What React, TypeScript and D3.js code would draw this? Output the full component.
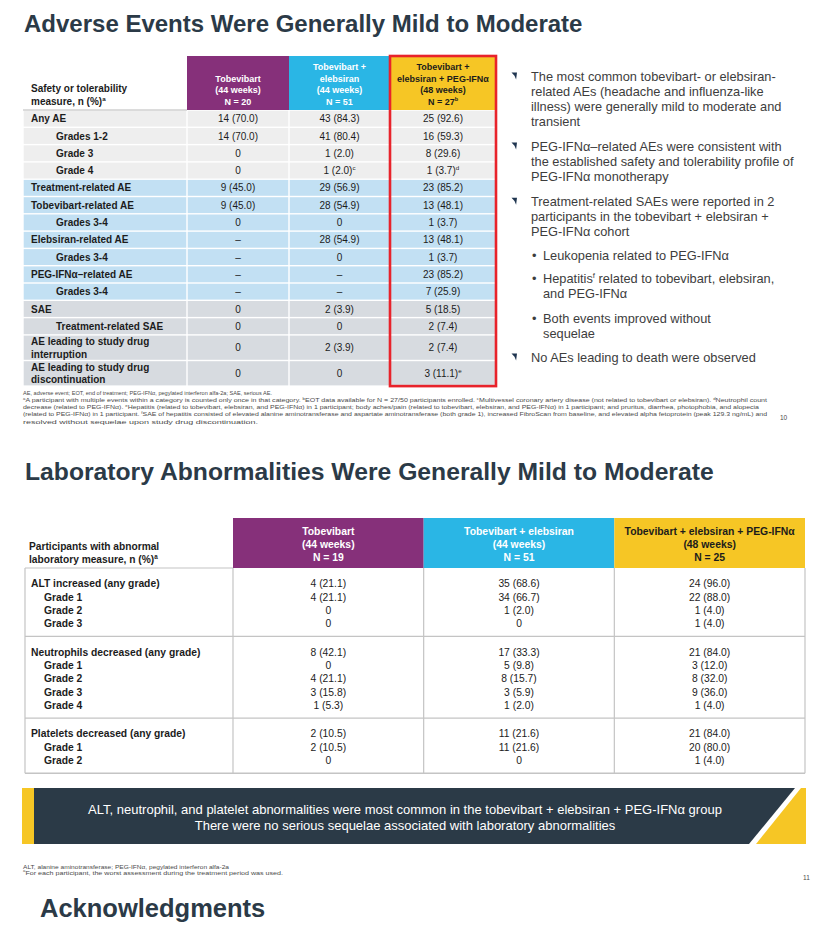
import React from "react";
import * as d3 from "d3";

const FONT = '"Liberation Sans", Arial, Helvetica, sans-serif';
const TITLE_COLOR = "#2b3a47";
const PURPLE = "#86307a";
const CYAN = "#2ab6e5";
const YELLOW = "#f6c625";
const RED = "#e8232b";
const DARK_TEXT = "#1c1c1c";

// ---------- Slide 1: adverse events ----------
const aeTitle = "Adverse Events Were Generally Mild to Moderate";
const aeCornerHeader = ["Safety or tolerability", "measure, n (%)^a"];
const aeColumnHeaders = [
  ["Tobevibart", "(44 weeks)", "N = 20"],
  ["Tobevibart +", "elebsiran", "(44 weeks)", "N = 51"],
  ["Tobevibart +", "elebsiran + PEG-IFNα", "(48 weeks)", "N = 27^b"],
];
const aeLabels = [
  "Any AE",
  "Grades 1-2",
  "Grade 3",
  "Grade 4",
  "Treatment-related AE",
  "Tobevibart-related AE",
  "Grades 3-4",
  "Elebsiran-related AE",
  "Grades 3-4",
  "PEG-IFNα–related AE",
  "Grades 3-4",
  "SAE",
  "Treatment-related SAE",
  "AE leading to study drug\ninterruption",
  "AE leading to study drug\ndiscontinuation",
];
const aeIndented = [false, true, true, true, false, false, true, false, true, false, true, false, true, false, false];
const aeGroups = ["any", "any", "any", "any", "rel", "rel", "rel", "rel", "rel", "rel", "rel", "sae", "sae", "sae", "sae"];
const aeTobevibart = ["14 (70.0)", "14 (70.0)", "0", "0", "9 (45.0)", "9 (45.0)", "0", "–", "–", "–", "–", "0", "0", "0", "0"];
const aeTobEle = ["43 (84.3)", "41 (80.4)", "1 (2.0)", "1 (2.0)^c", "29 (56.9)", "28 (54.9)", "0", "28 (54.9)", "0", "–", "–", "2 (3.9)", "0", "2 (3.9)", "0"];
const aeTriple = ["25 (92.6)", "16 (59.3)", "8 (29.6)", "1 (3.7)^d", "23 (85.2)", "13 (48.1)", "1 (3.7)", "13 (48.1)", "1 (3.7)", "23 (85.2)", "7 (25.9)", "5 (18.5)", "2 (7.4)", "2 (7.4)", "3 (11.1)^e"];

const aeBullets = [
  { sub: false, lines: ["The most common tobevibart- or elebsiran-", "related AEs (headache and influenza-like", "illness) were generally mild to moderate and", "transient"] },
  { sub: false, lines: ["PEG-IFNα–related AEs were consistent with", "the established safety and tolerability profile of", "PEG-IFNα monotherapy"] },
  { sub: false, lines: ["Treatment-related SAEs were reported in 2", "participants in the tobevibart + elebsiran +", "PEG-IFNα cohort"] },
  { sub: true, lines: ["Leukopenia related to PEG-IFNα"] },
  { sub: true, lines: ["Hepatitis^f related to tobevibart, elebsiran,", "and PEG-IFNα"] },
  { sub: true, lines: ["Both events improved without", "sequelae"] },
  { sub: false, lines: ["No AEs leading to death were observed"] },
];
const aeBulletBaselines = [80.7, 150.7, 206, 260, 282.7, 323.3, 361.7];

const aeFootnotes = [
  "AE, adverse event; EOT, end of treatment; PEG-IFNα, pegylated interferon alfa-2a; SAE, serious AE.",
  "^aA participant with multiple events within a category is counted only once in that category. ^bEOT data available for N = 27/50 participants enrolled. ^cMultivessel coronary artery disease (not related to tobevibart or elebsiran). ^dNeutrophil count",
  "decrease (related to PEG-IFNα). ^eHepatitis (related to tobevibart, elebsiran, and PEG-IFNα) in 1 participant; body aches/pain (related to tobevibart, elebsiran, and PEG-IFNα) in 1 participant; and pruritus, diarrhea, photophobia, and alopecia",
  "(related to PEG-IFNα) in 1 participant. ^fSAE of hepatitis consisted of elevated alanine aminotransferase and aspartate aminotransferase (both grade 1), increased FibroScan from baseline, and elevated alpha fetoprotein (peak 129.3 ng/mL) and",
  "resolved without sequelae upon study drug discontinuation.",
];
const aeFootnoteWidths = [249, 744, 736, 744, 235];

// ---------- Slide 2: laboratory abnormalities ----------
const labTitle = "Laboratory Abnormalities Were Generally Mild to Moderate";
const labCornerHeader = ["Participants with abnormal", "laboratory measure, n (%)^a"];
const labColumnHeaders = [
  ["Tobevibart", "(44 weeks)", "N = 19"],
  ["Tobevibart + elebsiran", "(44 weeks)", "N = 51"],
  ["Tobevibart + elebsiran + PEG-IFNα", "(48 weeks)", "N = 25"],
];
const labGroupNames = ["ALT increased (any grade)", "Neutrophils decreased (any grade)", "Platelets decreased (any grade)"];
const labGroupGrades = [
  ["Grade 1", "Grade 2", "Grade 3"],
  ["Grade 1", "Grade 2", "Grade 3", "Grade 4"],
  ["Grade 1", "Grade 2"],
];
const labTobevibart = [
  ["4 (21.1)", "4 (21.1)", "0", "0"],
  ["8 (42.1)", "0", "4 (21.1)", "3 (15.8)", "1 (5.3)"],
  ["2 (10.5)", "2 (10.5)", "0"],
];
const labTobEle = [
  ["35 (68.6)", "34 (66.7)", "1 (2.0)", "0"],
  ["17 (33.3)", "5 (9.8)", "8 (15.7)", "3 (5.9)", "1 (2.0)"],
  ["11 (21.6)", "11 (21.6)", "0"],
];
const labTriple = [
  ["24 (96.0)", "22 (88.0)", "1 (4.0)", "1 (4.0)"],
  ["21 (84.0)", "3 (12.0)", "8 (32.0)", "9 (36.0)", "1 (4.0)"],
  ["21 (84.0)", "20 (80.0)", "1 (4.0)"],
];
const labBanner = [
  "ALT, neutrophil, and platelet abnormalities were most common in the tobevibart + elebsiran + PEG-IFNα group",
  "There were no serious sequelae associated with laboratory abnormalities",
];
const labFootnotes = [
  "ALT, alanine aminotransferase; PEG-IFNα, pegylated interferon alfa-2a",
  "^aFor each participant, the worst assessment during the treatment period was used.",
];
const labFootnoteWidths = [206, 260];
const nextTitle = "Acknowledgments";

// ---------- helpers ----------
function rich(text: string, fs: number) {
  const parts = text.split(/\^(.)/);
  const out: any[] = [];
  const shift = fs * 0.38;
  let raised = false;
  parts.forEach((p, i) => {
    if (p === "") return;
    if (i % 2 === 1) {
      out.push(
        <tspan key={i} dy={-shift} fontSize={fs * 0.62}>
          {p}
        </tspan>
      );
      raised = true;
    } else {
      out.push(
        <tspan key={i} dy={raised ? shift : 0}>
          {p}
        </tspan>
      );
      raised = false;
    }
  });
  return out;
}

function AETable() {
  const left = 23;
  const colEdges = [187, 289, 390, 496];
  const top = 56;
  const headerBottom = 110;
  const single = 17.3;
  const dbl = 25.6;
  const heights = aeLabels.map((l) => (l.includes("\n") ? dbl : single));
  const ends = Array.from(d3.cumsum(heights));
  const y = d3.scaleLinear().domain([0, d3.sum(heights)]).range([headerBottom, headerBottom + d3.sum(heights)]);
  const rowTop = (i: number) => y(i === 0 ? 0 : ends[i - 1]);
  const rowBottom = (i: number) => y(ends[i]);
  const fill: Record<string, string> = { any: "#eeeeee", rel: "#c2e0f3", sae: "#d7dbe0" };
  const headerFill = [PURPLE, CYAN, YELLOW];
  const headerText = ["#ffffff", "#ffffff", DARK_TEXT];
  const series = [aeTobevibart, aeTobEle, aeTriple];
  const hfs = 9;
  const edges = [left, ...colEdges];
  return (
    <g fontFamily={FONT}>
      {aeCornerHeader.map((t, i) => (
        <text key={i} x={31} y={92 + i * 12.5} fontSize={10} fontWeight="bold" fill={DARK_TEXT}>
          {rich(t, 10)}
        </text>
      ))}
      {aeColumnHeaders.map((lines, c) => {
        const x0 = colEdges[c];
        const x1 = colEdges[c + 1];
        const cx = (x0 + x1) / 2;
        return (
          <g key={c}>
            <rect x={x0} y={top} width={x1 - x0} height={headerBottom - top} fill={headerFill[c]} />
            {lines.map((t, k) => (
              <text
                key={k}
                x={cx}
                y={104.7 - (lines.length - 1 - k) * 11.6}
                textAnchor="middle"
                fontSize={hfs}
                fontWeight="bold"
                fill={headerText[c]}
              >
                {rich(t, hfs)}
              </text>
            ))}
          </g>
        );
      })}
      {aeLabels.map((label, i) => {
        const y0 = rowTop(i);
        const y1 = rowBottom(i);
        const cy = (y0 + y1) / 2;
        const lines = label.split("\n");
        return (
          <g key={i}>
            {edges.slice(0, -1).map((x0, c) => (
              <rect
                key={c}
                x={x0 + 0.7}
                y={y0 + 0.7}
                width={edges[c + 1] - x0 - 1.4}
                height={y1 - y0 - 1.4}
                fill={fill[aeGroups[i]]}
              />
            ))}
            {lines.map((t, k) => (
              <text
                key={k}
                x={aeIndented[i] ? 56 : 31}
                y={cy + 3.6 + (k - (lines.length - 1) / 2) * 12.4}
                fontSize={10}
                fontWeight="bold"
                fill={DARK_TEXT}
              >
                {t}
              </text>
            ))}
            {series.map((s, c) => (
              <text
                key={c}
                x={(colEdges[c] + colEdges[c + 1]) / 2}
                y={cy + 3.6}
                textAnchor="middle"
                fontSize={10}
                fill={DARK_TEXT}
              >
                {rich(s[i], 10)}
              </text>
            ))}
          </g>
        );
      })}
      <line x1={left} x2={colEdges[0]} y1={headerBottom} y2={headerBottom} stroke="#b9b9b9" strokeWidth={1} />
      <rect
        x={colEdges[2]}
        y={top}
        width={colEdges[3] - colEdges[2]}
        height={rowBottom(aeLabels.length - 1) - top}
        fill="none"
        stroke={RED}
        strokeWidth={2.6}
      />
    </g>
  );
}

function BulletMarker({ x, y }: { x: number; y: number }) {
  return <path d={`M${x},${y} L${x + 5.5},${y} L${x + 4.6},${y + 7} L${x + 3},${y + 3.4} Z`} fill="#1f3550" />;
}

function AEBullets() {
  const fs = 12.8;
  return (
    <g fontFamily={FONT} fontSize={fs} fill="#3d3d3d">
      {aeBullets.map((b, i) => {
        const base = aeBulletBaselines[i];
        const tx = b.sub ? 543 : 531;
        return (
          <g key={i}>
            {b.sub ? (
              <text x={532} y={base} fontSize={fs}>
                •
              </text>
            ) : (
              <BulletMarker x={511.5} y={base - 8.3} />
            )}
            {b.lines.map((t, k) => (
              <text key={k} x={tx} y={base + k * 15.1}>
                {rich(t, fs)}
              </text>
            ))}
          </g>
        );
      })}
    </g>
  );
}

function LabTable() {
  const left = 25;
  const right = 805;
  const col = d3.scaleBand<number>().domain([0, 1, 2]).range([233, right]).paddingInner(0);
  const top = 518;
  const headerBottom = 568;
  const headerFill = [PURPLE, CYAN, YELLOW];
  const headerText = ["#ffffff", "#ffffff", DARK_TEXT];
  const series = [labTobevibart, labTobEle, labTriple];
  const step = 13.3;
  const padTop = 15.5;
  const padBottom = 13;
  const groupHeights = labGroupGrades.map((g) => padTop + g.length * step + padBottom);
  const groupEnds = Array.from(d3.cumsum(groupHeights)).map((v) => headerBottom + v);
  const groupStart = (g: number) => (g === 0 ? headerBottom : groupEnds[g - 1]);
  const bottom = groupEnds[groupEnds.length - 1];
  const fs = 10.3;
  return (
    <g fontFamily={FONT}>
      {labCornerHeader.map((t, i) => (
        <text key={i} x={29} y={549.5 + i * 13.8} fontSize={10.2} fontWeight="bold" fill={DARK_TEXT}>
          {rich(t, 10.2)}
        </text>
      ))}
      {labColumnHeaders.map((lines, c) => {
        const x0 = col(c)!;
        const w = col.bandwidth();
        return (
          <g key={c}>
            <rect x={x0} y={top} width={w} height={headerBottom - top} fill={headerFill[c]} />
            {lines.map((t, k) => (
              <text
                key={k}
                x={x0 + w / 2}
                y={534.7 + k * 13}
                textAnchor="middle"
                fontSize={10.4}
                fontWeight="bold"
                fill={headerText[c]}
              >
                {t}
              </text>
            ))}
          </g>
        );
      })}
      <line x1={left} x2={233} y1={headerBottom} y2={headerBottom} stroke="#c4c4c4" strokeWidth={1.2} />
      {[left, 233, col(1)!, col(2)!, right].map((x, i) => (
        <line key={i} x1={x} x2={x} y1={headerBottom} y2={bottom} stroke="#c4c4c4" strokeWidth={1.2} />
      ))}
      {groupEnds.map((gy, i) => (
        <line key={i} x1={left} x2={right} y1={gy} y2={gy} stroke="#c4c4c4" strokeWidth={1.4} />
      ))}
      {labGroupNames.map((name, g) => {
        const labels = [name, ...labGroupGrades[g]];
        const y0 = groupStart(g) + padTop;
        return (
          <g key={g}>
            {labels.map((t, r) => {
              const cy = y0 + r * step;
              return (
                <g key={r}>
                  <text x={r === 0 ? 31 : 44} y={cy + 3.7} fontSize={fs} fontWeight="bold" fill={DARK_TEXT}>
                    {t}
                  </text>
                  {series.map((s, c) => (
                    <text
                      key={c}
                      x={col(c)! + col.bandwidth() / 2}
                      y={cy + 3.7}
                      textAnchor="middle"
                      fontSize={fs}
                      fill={DARK_TEXT}
                    >
                      {s[g][r]}
                    </text>
                  ))}
                </g>
              );
            })}
          </g>
        );
      })}
    </g>
  );
}

function Banner() {
  const y0 = 788;
  const y1 = 844;
  return (
    <g fontFamily={FONT}>
      <rect x={22} y={y0} width={12} height={y1 - y0} fill={YELLOW} />
      <path d={`M34,${y0} L795,${y0} L749,${y1} L34,${y1} Z`} fill={TITLE_COLOR} />
      <path d={`M801,${y0} L806,${y0} L806,${y1} L756,${y1} Z`} fill={YELLOW} />
      {labBanner.map((t, i) => (
        <text key={i} x={405} y={813.5 + i * 16} textAnchor="middle" fontSize={13} fill="#ffffff">
          {t}
        </text>
      ))}
    </g>
  );
}

export default function App() {
  return (
    <svg
      width={828}
      height={947}
      viewBox="0 0 828 947"
      style={{ position: "absolute", left: 0, top: 0, background: "#ffffff" }}
    >
      <rect x={0} y={0} width={828} height={947} fill="#ffffff" />
      <text x={24} y={32} fontFamily={FONT} fontSize={24} fontWeight="bold" fill={TITLE_COLOR}>
        {aeTitle}
      </text>
      <AETable />
      <AEBullets />
      <g fontFamily={FONT} fontSize={6} fill="#4a4a4a">
        {aeFootnotes.map((t, i) => (
          <text
            key={i}
            x={23}
            y={394.7 + i * 7.25}
            textLength={aeFootnoteWidths[i]}
            lengthAdjust="spacingAndGlyphs"
          >
            {rich(t, 6)}
          </text>
        ))}
        <text x={780} y={419.5} fontSize={6.5}>
          10
        </text>
      </g>

      <text x={25} y={480} fontFamily={FONT} fontSize={24.7} fontWeight="bold" fill={TITLE_COLOR}>
        {labTitle}
      </text>
      <LabTable />
      <Banner />
      <g fontFamily={FONT} fontSize={6} fill="#4a4a4a">
        {labFootnotes.map((t, i) => (
          <text
            key={i}
            x={23}
            y={868.8 + i * 5.8}
            textLength={labFootnoteWidths[i]}
            lengthAdjust="spacingAndGlyphs"
          >
            {rich(t, 6)}
          </text>
        ))}
        <text x={803} y={880} fontSize={6.5}>
          11
        </text>
      </g>
      <text x={40} y={917} fontFamily={FONT} fontSize={25.5} fontWeight="bold" fill={TITLE_COLOR}>
        {nextTitle}
      </text>
    </svg>
  );
}
